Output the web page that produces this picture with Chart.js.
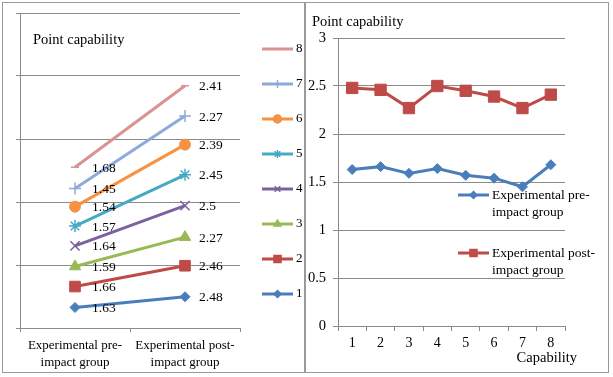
<!DOCTYPE html>
<html>
<head>
<meta charset="utf-8">
<script src="https://cdn.jsdelivr.net/npm/chart.js@4.4.0/dist/chart.umd.min.js"></script>
<style>
  body { margin: 0; width: 613px; height: 377px; background: #fff; position: relative; overflow: hidden; }
  .panel { position: absolute; border: 1.5px solid #9a9a9a; box-sizing: border-box; }
  canvas { position: absolute; }
</style>
</head>
<body>
<div class="panel" style="left:2px;top:2px;width:304px;height:371px"></div>
<div class="panel" style="left:304px;top:2px;width:305px;height:371px"></div>
<canvas id="slopeChart" width="300" height="367" style="left:4px;top:4px"></canvas>
<canvas id="lineChart" width="301" height="367" style="left:306px;top:4px"></canvas>

<script>
// Data
const capabilities = ["1", "2", "3", "4", "5", "6", "7", "8"];
const groups = [["Experimental pre-", "impact group"], ["Experimental post-", "impact group"]];
const preImpact = [1.63, 1.66, 1.59, 1.64, 1.57, 1.54, 1.45, 1.68];
const postImpact = [2.48, 2.46, 2.27, 2.5, 2.45, 2.39, 2.27, 2.41];
const preLabel = ["Experimental pre-", "impact group"];
const postLabel = ["Experimental post-", "impact group"];

// Styles
const seriesColors = ["#4a7ebb", "#be4b48", "#98b954", "#7d60a0", "#46aac5", "#f69240", "#8eaadb", "#d99392"];
const seriesMarkers = ["rectRot", "rect", "triangle", "crossRot", "star", "circle", "cross", "line"];
const markerSizes = [5, 7.5, 6.5, 6.5, 6, 5.5, 6, 4];
const legendSizes = [3.5, 5, 4, 4, 4, 4, 4, 0];
const gridColor = "#8a8a8a";
const serif = "'Liberation Serif', 'Times New Roman', serif";

Chart.defaults.font.family = serif;
Chart.defaults.color = "#000";

function isStroked(style) {
  return style === "cross" || style === "crossRot" || style === "star" || style === "line";
}

function legendEntry(ctx, x, y, color, marker, size, lines) {
  ctx.strokeStyle = color;
  ctx.lineWidth = 3;
  ctx.beginPath();
  ctx.moveTo(x, y);
  ctx.lineTo(x + 31, y);
  ctx.stroke();
  if (size > 0) {
    ctx.fillStyle = color;
    ctx.lineWidth = 1.5;
    Chart.helpers.drawPoint(ctx, { pointStyle: marker, radius: size, rotation: 0, borderWidth: 1.5 }, x + 15.5, y);
  }
  ctx.fillStyle = "#000";
  lines.forEach((t, k) => ctx.fillText(t, x + 34, y + k * 17));
}

// Left: stacked slope chart
const slopeDecor = {
  id: "slopeDecor",
  afterDatasetsDraw(chart) {
    const ctx = chart.ctx;
    ctx.save();
    ctx.textBaseline = "middle";
    ctx.textAlign = "left";

    // value labels
    ctx.font = "13.5px " + serif;
    ctx.fillStyle = "#000";
    chart.data.datasets.forEach((ds, i) => {
      chart.getDatasetMeta(i).data.forEach((pt, j) => {
        ctx.fillText(String(ds.data[j]), pt.x + (j === 0 ? 17 : 14), pt.y + 1);
      });
    });

    ctx.font = "14.5px " + serif;
    ctx.fillText("Point capability", 29, 36);

    // legend, 8 at the top
    ctx.font = "13px " + serif;
    for (let i = 7; i >= 0; i--) {
      const y = 45 + (7 - i) * 35;
      legendEntry(ctx, 258, y, seriesColors[i], seriesMarkers[i], legendSizes[i], [capabilities[i]]);
    }
    ctx.restore();
  }
};

const slopeSets = capabilities.map((c, i) => ({
  label: c,
  data: [preImpact[i], postImpact[i]],
  borderColor: seriesColors[i],
  backgroundColor: seriesColors[i],
  borderWidth: 3,
  pointStyle: seriesMarkers[i],
  pointRadius: markerSizes[i],
  pointBorderWidth: isStroked(seriesMarkers[i]) ? 1.5 : 1,
  fill: false
}));

new Chart(document.getElementById("slopeChart"), {
  type: "line",
  data: { labels: groups, datasets: slopeSets },
  options: {
    responsive: false,
    animation: false,
    layout: { padding: { top: 9, right: 64, left: 0, bottom: 0 } },
    plugins: { legend: { display: false }, tooltip: { enabled: false } },
    scales: {
      x: {
        offset: true,
        grid: { offset: true, drawOnChartArea: false, tickLength: 4, color: gridColor },
        border: { color: gridColor },
        ticks: { font: { size: 13, lineHeight: 1.3 }, color: "#000", padding: 5, maxRotation: 0 },
        afterFit(s) { s.height = 43; }
      },
      y: {
        stacked: true,
        min: 0,
        max: 25,
        ticks: { display: false, stepSize: 5 },
        grid: { color: gridColor, tickLength: 4 },
        border: { color: gridColor },
        afterFit(s) { s.width = 16; }
      }
    }
  },
  plugins: [slopeDecor]
});

// Right: line chart by capability
const lineDecor = {
  id: "lineDecor",
  afterDatasetsDraw(chart) {
    const ctx = chart.ctx;
    ctx.save();
    ctx.textBaseline = "middle";
    ctx.textAlign = "left";
    ctx.fillStyle = "#000";
    ctx.font = "14.5px " + serif;
    ctx.fillText("Point capability", 6, 18);
    ctx.textAlign = "right";
    ctx.fillText("Capability", 271, 354);
    ctx.textAlign = "left";
    ctx.font = "13.5px " + serif;
    legendEntry(ctx, 152, 191, seriesColors[0], "rectRot", 3.5, preLabel);
    legendEntry(ctx, 152, 249, seriesColors[1], "rect", 5, postLabel);
    ctx.restore();
  }
};

new Chart(document.getElementById("lineChart"), {
  type: "line",
  data: {
    labels: capabilities,
    datasets: [
      {
        label: preLabel.join(""),
        data: preImpact,
        borderColor: seriesColors[0],
        backgroundColor: seriesColors[0],
        borderWidth: 3,
        pointStyle: "rectRot",
        pointRadius: 5,
        pointBorderWidth: 1
      },
      {
        label: postLabel.join(""),
        data: postImpact,
        borderColor: seriesColors[1],
        backgroundColor: seriesColors[1],
        borderWidth: 3,
        pointStyle: "rect",
        pointRadius: 8,
        pointBorderWidth: 1
      }
    ]
  },
  options: {
    responsive: false,
    animation: false,
    layout: { padding: { top: 34, right: 42, left: 0, bottom: 0 } },
    plugins: { legend: { display: false }, tooltip: { enabled: false } },
    scales: {
      x: {
        offset: true,
        grid: { offset: true, drawOnChartArea: false, tickLength: 5, color: gridColor },
        border: { color: gridColor },
        ticks: { font: { size: 14 }, color: "#000", padding: 4 },
        afterFit(s) { s.height = 45; }
      },
      y: {
        min: 0,
        max: 3,
        ticks: { stepSize: 0.5, font: { size: 14.5 }, color: "#000", padding: 7, callback: v => String(v) },
        grid: { color: gridColor, tickLength: 5 },
        border: { color: gridColor },
        afterFit(s) { s.width = 32; }
      }
    }
  },
  plugins: [lineDecor]
});
</script>
</body>
</html>
